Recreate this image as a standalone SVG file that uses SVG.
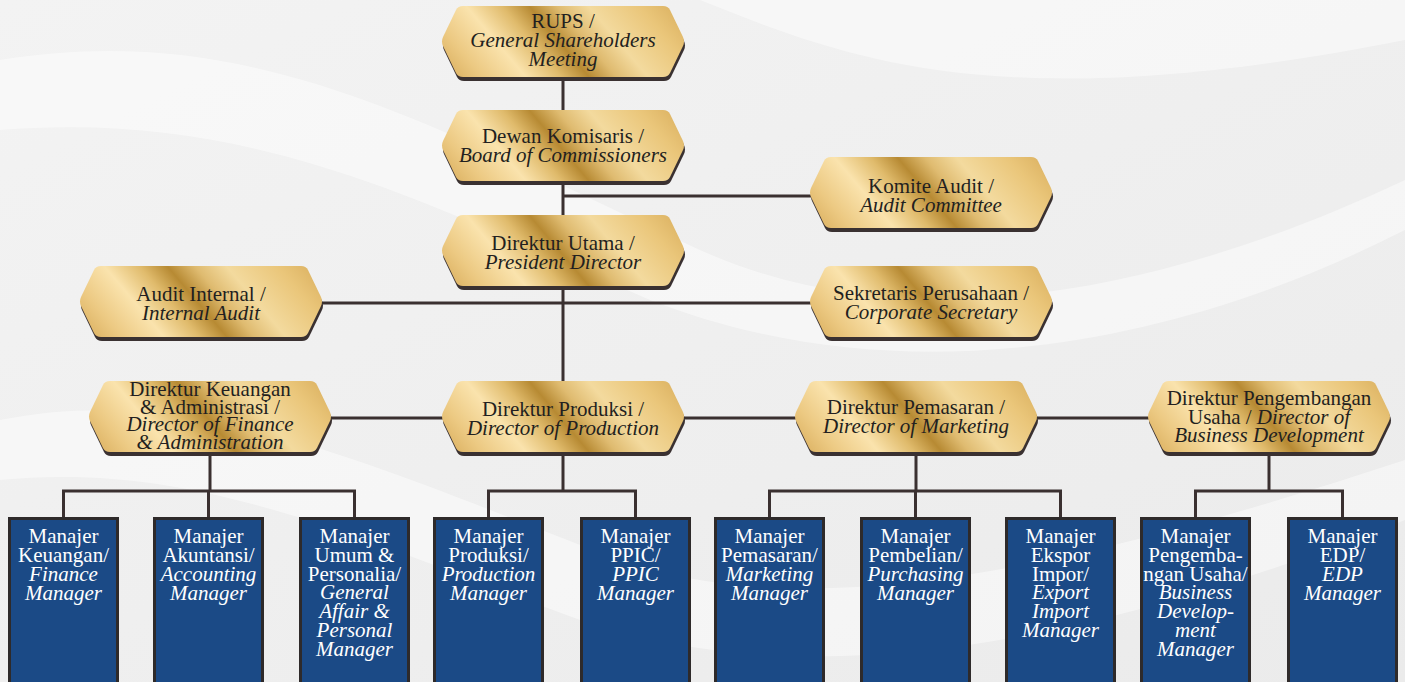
<svg xmlns="http://www.w3.org/2000/svg" xmlns:xlink="http://www.w3.org/1999/xlink" width="1405" height="682" viewBox="0 0 1405 682">
<defs>
<linearGradient id="gold" gradientUnits="userSpaceOnUse" x1="7" y1="132.5" x2="237" y2="-61.5">
<stop offset="0.10" stop-color="#d4a652"/>
<stop offset="0.22" stop-color="#ecc982"/>
<stop offset="0.33" stop-color="#fae3ad"/>
<stop offset="0.42" stop-color="#e0bb6c"/>
<stop offset="0.49" stop-color="#b78a33"/>
<stop offset="0.56" stop-color="#dfbb70"/>
<stop offset="0.64" stop-color="#f3da9e"/>
<stop offset="0.77" stop-color="#eac67a"/>
<stop offset="0.90" stop-color="#d6aa58"/>
</linearGradient>
<linearGradient id="bg" x1="0" y1="0" x2="1" y2="1">
<stop offset="0" stop-color="#f3f3f3"/>
<stop offset="1" stop-color="#ebebeb"/>
</linearGradient>
<path id="hex" d="M22,0 H222 Q227,0 229,4 L242,31 Q244,35.5 242,40 L229,67 Q227,71 222,71 H22 Q17,71 15,67 L2,40 Q0,35.5 2,31 L15,4 Q17,0 22,0 Z"/>
<style>
.bgw{fill:#ffffff;opacity:0.45}
.shadow{fill:#3a3131}
.gold{fill:url(#gold)}
.conn{stroke:#3a3030;stroke-width:3;fill:none}
.t{font-family:"Liberation Serif","Times New Roman",serif;font-size:21px;fill:#231f20;text-anchor:middle}
.i{font-style:italic}
.box{fill:#1b4a86;stroke:#2e2a2a;stroke-width:3}
.w{font-family:"Liberation Serif","Times New Roman",serif;font-size:21px;fill:#ffffff;text-anchor:middle}
</style>
</defs>
<rect x="0" y="0" width="1405" height="682" fill="url(#bg)"/>
<path class="bgw" d="M0,60 C250,20 420,120 700,250 C900,340 1150,300 1405,180 L1405,230 C1150,360 880,390 650,300 C420,200 250,110 0,130 Z"/>
<path class="bgw" d="M0,420 C200,380 380,470 620,560 C820,630 1100,560 1405,460 L1405,520 C1100,640 820,700 580,620 C360,540 200,460 0,480 Z"/>
<path class="bgw" d="M700,0 C850,60 1000,120 1405,40 L1405,0 Z"/>

<g id="connectors">
<line class="conn" x1="563" y1="76" x2="563" y2="385"/>
<line class="conn" x1="563" y1="196" x2="815" y2="196"/>
<line class="conn" x1="318" y1="303" x2="815" y2="303"/>
<line class="conn" x1="330" y1="418" x2="1150" y2="418"/>
<polyline class="conn" points="210,456 210,491"/>
<polyline class="conn" points="63.5,519 63.5,491 354.5,491 354.5,519"/>
<line class="conn" x1="208.5" y1="491" x2="208.5" y2="519"/>
<polyline class="conn" points="563,456 563,491"/>
<polyline class="conn" points="488.5,519 488.5,491 635.5,491 635.5,519"/>
<polyline class="conn" points="916,456 916,491"/>
<polyline class="conn" points="769.5,519 769.5,491 1060.5,491 1060.5,519"/>
<line class="conn" x1="915.5" y1="491" x2="915.5" y2="519"/>
<polyline class="conn" points="1269,456 1269,491"/>
<polyline class="conn" points="1195.5,519 1195.5,491 1342.5,491 1342.5,519"/>
</g>

<g id="rups">
<use xlink:href="#hex" class="shadow" x="442" y="10"/>
<use xlink:href="#hex" class="gold" x="441" y="6"/>
<text class="t" x="563" y="28">RUPS /<tspan class="i" x="563" dy="19">General Shareholders</tspan><tspan class="i" x="563" dy="19">Meeting</tspan></text>
</g>
<g id="dewan">
<use xlink:href="#hex" class="shadow" x="442" y="114"/>
<use xlink:href="#hex" class="gold" x="441" y="110"/>
<text class="t" x="563" y="143">Dewan Komisaris /<tspan class="i" x="563" dy="19">Board of Commissioners</tspan></text>
</g>
<g id="komite">
<use xlink:href="#hex" class="shadow" x="810" y="161"/>
<use xlink:href="#hex" class="gold" x="809" y="157"/>
<text class="t" x="931" y="193">Komite Audit /<tspan class="i" x="931" dy="19">Audit Committee</tspan></text>
</g>
<g id="utama">
<use xlink:href="#hex" class="shadow" x="442" y="219"/>
<use xlink:href="#hex" class="gold" x="441" y="215"/>
<text class="t" x="563" y="250">Direktur Utama /<tspan class="i" x="563" dy="19">President Director</tspan></text>
</g>
<g id="audit-internal">
<use xlink:href="#hex" class="shadow" x="80" y="270"/>
<use xlink:href="#hex" class="gold" x="79" y="266"/>
<text class="t" x="201" y="301">Audit Internal /<tspan class="i" x="201" dy="19">Internal Audit</tspan></text>
</g>
<g id="sekretaris">
<use xlink:href="#hex" class="shadow" x="810" y="270"/>
<use xlink:href="#hex" class="gold" x="809" y="266"/>
<text class="t" x="931" y="300">Sekretaris Perusahaan /<tspan class="i" x="931" dy="19">Corporate Secretary</tspan></text>
</g>
<g id="dir-keuangan">
<use xlink:href="#hex" class="shadow" x="89" y="385"/>
<use xlink:href="#hex" class="gold" x="88" y="381"/>
<text class="t" x="210" y="396">Direktur Keuangan<tspan x="210" dy="17.7">&amp; Administrasi /</tspan><tspan class="i" x="210" dy="17.7">Director of Finance</tspan><tspan class="i" x="210" dy="17.7">&amp; Administration</tspan></text>
</g>
<g id="dir-produksi">
<use xlink:href="#hex" class="shadow" x="442" y="385"/>
<use xlink:href="#hex" class="gold" x="441" y="381"/>
<text class="t" x="563" y="416">Direktur Produksi /<tspan class="i" x="563" dy="19">Director of Production</tspan></text>
</g>
<g id="dir-pemasaran">
<use xlink:href="#hex" class="shadow" x="795" y="385"/>
<use xlink:href="#hex" class="gold" x="794" y="381"/>
<text class="t" x="916" y="414">Direktur Pemasaran /<tspan class="i" x="916" dy="19">Director of Marketing</tspan></text>
</g>
<g id="dir-pengembangan">
<use xlink:href="#hex" class="shadow" x="1148" y="385"/>
<use xlink:href="#hex" class="gold" x="1147" y="381"/>
<text class="t" x="1269" y="405">Direktur Pengembangan<tspan x="1269" dy="18.5">Usaha / </tspan><tspan class="i">Director of</tspan><tspan class="i" x="1269" dy="18.5">Business Development</tspan></text>
</g>

<g id="mgr-keuangan">
<rect class="box" x="9.5" y="518.5" width="108" height="170"/>
<text class="w" x="63.5" y="543">Manajer<tspan x="63.5" dy="19">Keuangan/</tspan><tspan class="i" x="63.5" dy="19">Finance</tspan><tspan class="i" x="63.5" dy="19">Manager</tspan></text>
</g>
<g id="mgr-akuntansi">
<rect class="box" x="154.5" y="518.5" width="108" height="170"/>
<text class="w" x="208.5" y="543">Manajer<tspan x="208.5" dy="19">Akuntansi/</tspan><tspan class="i" x="208.5" dy="19">Accounting</tspan><tspan class="i" x="208.5" dy="19">Manager</tspan></text>
</g>
<g id="mgr-umum">
<rect class="box" x="300.5" y="518.5" width="108" height="170"/>
<text class="w" x="354.5" y="543">Manajer<tspan x="354.5" dy="18.8">Umum &amp;</tspan><tspan x="354.5" dy="18.8">Personalia/</tspan><tspan class="i" x="354.5" dy="18.8">General</tspan><tspan class="i" x="354.5" dy="18.8">Affair &amp;</tspan><tspan class="i" x="354.5" dy="18.8">Personal</tspan><tspan class="i" x="354.5" dy="18.8">Manager</tspan></text>
</g>
<g id="mgr-produksi">
<rect class="box" x="434.5" y="518.5" width="108" height="170"/>
<text class="w" x="488.5" y="543">Manajer<tspan x="488.5" dy="19">Produksi/</tspan><tspan class="i" x="488.5" dy="19">Production</tspan><tspan class="i" x="488.5" dy="19">Manager</tspan></text>
</g>
<g id="mgr-ppic">
<rect class="box" x="581.5" y="518.5" width="108" height="170"/>
<text class="w" x="635.5" y="543">Manajer<tspan x="635.5" dy="19">PPIC/</tspan><tspan class="i" x="635.5" dy="19">PPIC</tspan><tspan class="i" x="635.5" dy="19">Manager</tspan></text>
</g>
<g id="mgr-pemasaran">
<rect class="box" x="715.5" y="518.5" width="108" height="170"/>
<text class="w" x="769.5" y="543">Manajer<tspan x="769.5" dy="19">Pemasaran/</tspan><tspan class="i" x="769.5" dy="19">Marketing</tspan><tspan class="i" x="769.5" dy="19">Manager</tspan></text>
</g>
<g id="mgr-pembelian">
<rect class="box" x="861.5" y="518.5" width="108" height="170"/>
<text class="w" x="915.5" y="543">Manajer<tspan x="915.5" dy="19">Pembelian/</tspan><tspan class="i" x="915.5" dy="19">Purchasing</tspan><tspan class="i" x="915.5" dy="19">Manager</tspan></text>
</g>
<g id="mgr-ekspor">
<rect class="box" x="1006.5" y="518.5" width="108" height="170"/>
<text class="w" x="1060.5" y="543">Manajer<tspan x="1060.5" dy="18.8">Ekspor</tspan><tspan x="1060.5" dy="18.8">Impor/</tspan><tspan class="i" x="1060.5" dy="18.8">Export</tspan><tspan class="i" x="1060.5" dy="18.8">Import</tspan><tspan class="i" x="1060.5" dy="18.8">Manager</tspan></text>
</g>
<g id="mgr-pengembangan">
<rect class="box" x="1141.5" y="518.5" width="108" height="170"/>
<text class="w" x="1195.5" y="543">Manajer<tspan x="1195.5" dy="18.8">Pengemba-</tspan><tspan x="1195.5" dy="18.8">ngan Usaha/</tspan><tspan class="i" x="1195.5" dy="18.8">Business</tspan><tspan class="i" x="1195.5" dy="18.8">Develop-</tspan><tspan class="i" x="1195.5" dy="18.8">ment</tspan><tspan class="i" x="1195.5" dy="18.8">Manager</tspan></text>
</g>
<g id="mgr-edp">
<rect class="box" x="1288.5" y="518.5" width="108" height="170"/>
<text class="w" x="1342.5" y="543">Manajer<tspan x="1342.5" dy="19">EDP/</tspan><tspan class="i" x="1342.5" dy="19">EDP</tspan><tspan class="i" x="1342.5" dy="19">Manager</tspan></text>
</g>
</svg>
